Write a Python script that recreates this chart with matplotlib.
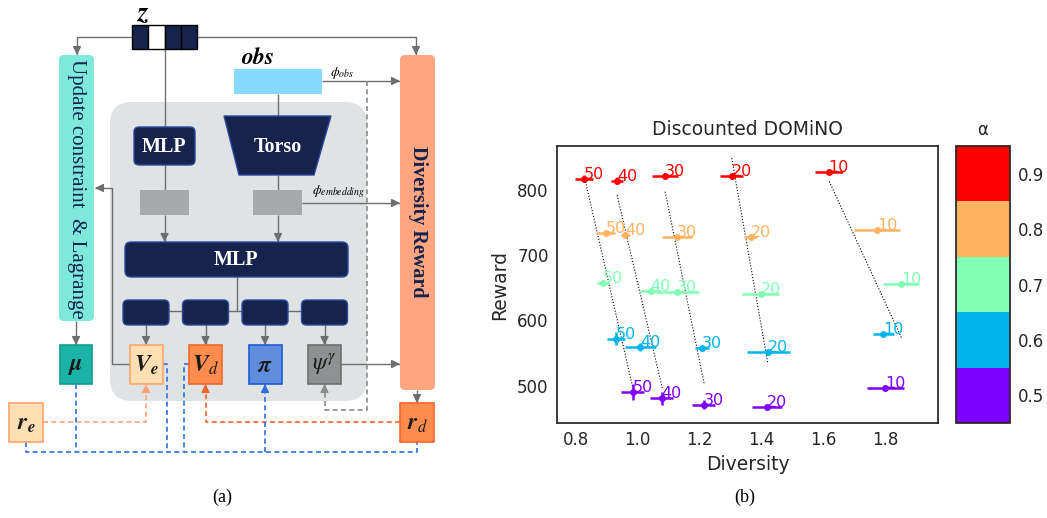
import numpy as np
import matplotlib
matplotlib.use('Agg')
import matplotlib.pyplot as plt
from matplotlib.patches import FancyBboxPatch, Polygon, Rectangle
from matplotlib.colors import ListedColormap, BoundaryNorm
from matplotlib.cm import ScalarMappable

plt.rcParams['mathtext.fontset'] = 'stix'

# ---- panel (b) data ----
alphas = [0.5, 0.6, 0.7, 0.8, 0.9]
n_labels = ['10', '20', '30', '40', '50']

# rows follow alphas, columns follow n_labels
diversity = [
    [1.800, 1.417, 1.214, 1.078, 0.985],
    [1.794, 1.422, 1.209, 1.009, 0.931],
    [1.851, 1.397, 1.128, 1.042, 0.888],
    [1.773, 1.365, 1.128, 0.961, 0.897],
    [1.617, 1.304, 1.089, 0.934, 0.827],
]
reward = [
    [497, 468, 471, 481, 490],
    [579, 552, 558, 559, 572],
    [656, 640, 643, 645, 657],
    [738, 727, 727, 731, 734],
    [827, 821, 821, 814, 817],
]
diversity_err = [
    [0.060, 0.049, 0.037, 0.037, 0.037],
    [0.035, 0.070, 0.022, 0.049, 0.028],
    [0.058, 0.060, 0.070, 0.034, 0.020],
    [0.075, 0.020, 0.049, 0.014, 0.031],
    [0.045, 0.037, 0.042, 0.020, 0.030],
]
reward_err = [
    [2, 2, 7, 10, 12],
    [3, 2, 3, 6, 10],
    [2, 2, 2, 4, 3],
    [2, 2, 2, 4, 3],
    [2, 2, 2, 5, 5],
]
# dotted trend line for each n label
trend_div_top = [1.619, 1.304, 1.089, 0.934, 0.832]
trend_rew_top = [812.7, 848.5, 797, 792, 812.7]
trend_div_bot = [1.854, 1.420, 1.216, 1.080, 0.985]
trend_rew_bot = [571.5, 536, 501, 496, 496.4]

# ---- panel (a) labels ----
head_labels = [r'$\mathbfit{V}_{\mathbfit{e}}$', r'$\mathbfit{V}_{d}$',
               r'$\mathbfit{\pi}$', r'$\psi^{\gamma}$']
head_fill = ['#ffdfb3', '#ff8c4f', '#5f8fdc', '#8e9192']
head_edge = ['#ffa66a', '#f2672a', '#1e5ad8', '#707070']
head_x = [146, 205.5, 265, 324.5]

navy = '#15234d'
navy_edge = '#2a4aa0'
lgray = '#6e6e6e'

fig = plt.figure(figsize=(10.47, 5.18), dpi=100)
ad = fig.add_axes([0, 0, 1, 1])
ad.set_xlim(0, 1047)
ad.set_ylim(518, 0)
ad.axis('off')


def box(x0, y0, x1, y1, fc, ec='none', r=0, lw=1, z=2):
    style = 'round,pad=0,rounding_size=%g' % r if r else 'square,pad=0'
    ad.add_patch(FancyBboxPatch((x0, y0), x1 - x0, y1 - y0, boxstyle=style,
                                fc=fc, ec=ec, lw=lw, zorder=z))


def path(pts, color=lgray, ls='-', lw=1.0, arrow=False, z=1.5):
    xs = [p[0] for p in pts]
    ys = [p[1] for p in pts]
    ad.plot(xs, ys, color=color, ls=ls, lw=lw, zorder=z,
            solid_capstyle='butt')
    if arrow:
        (x0, y0), (x1, y1) = pts[-2], pts[-1]
        d = np.hypot(x1 - x0, y1 - y0)
        ux, uy = (x1 - x0) / d, (y1 - y0) / d
        ad.annotate('', xy=(x1, y1), xytext=(x1 - ux * 7, y1 - uy * 7),
                    arrowprops=dict(arrowstyle='-|>,head_length=0.7,head_width=0.35',
                                    color=color, lw=1, shrinkA=0, shrinkB=0,
                                    mutation_scale=7), zorder=z + 1)


# background panels
box(110, 102, 367, 401, '#dfe3e4', r=22, z=1)
box(59, 55, 94, 321, '#7ee9da', r=5)
box(400, 55, 435, 390, '#ffa57f', r=5)
box(234, 69, 322, 94, '#84dbfb')
ad.text(76.5, 189, 'Update constraint  & Lagrange', rotation=-90, ha='center',
        va='center', family='Liberation Serif', fontsize=15, color=navy, zorder=3)
ad.text(417.5, 222, 'Diversity Reward', rotation=-90, ha='center', va='center',
        family='Liberation Serif', fontsize=14.5, fontweight='bold', color=navy, zorder=3)

# z vector
z_fill = [navy, 'white', navy, navy]
for k, fc in enumerate(z_fill):
    ad.add_patch(Rectangle((132 + 16.25 * k, 25), 16.25, 24, fc=fc, ec='black',
                           lw=1, zorder=3))
ad.text(143, 13, r'$\mathbfit{z}$', fontsize=20, ha='center', va='center')
ad.text(258, 57, r'$\mathbfit{obs}$', fontsize=17, ha='center', va='center')

# networks
box(134, 127, 195, 165, navy, ec=navy_edge, r=5)
ad.add_patch(Polygon([(224, 116), (331, 116), (314, 175), (239, 175)], closed=True,
                     fc=navy, ec=navy_edge, lw=1, zorder=2))
box(140, 190, 189, 215, '#a7a9aa')
box(253, 190, 302, 215, '#a7a9aa')
box(125, 242, 348, 277, navy, ec=navy_edge, r=6)
for t, x, y in [('MLP', 164.5, 147), ('Torso', 277.5, 147), ('MLP', 236.5, 260)]:
    ad.text(x, y, t, family='Liberation Serif', fontweight='bold', fontsize=14.5,
            color='white', ha='center', va='center', zorder=3)
path([(146, 311), (324.5, 311)])
path([(236.5, 277), (236.5, 311)])
for cx, lab, fc, ec in zip(head_x, head_labels, head_fill, head_edge):
    box(cx - 23, 300, cx + 23, 325, navy, ec=navy_edge, r=5)
    path([(cx, 325), (cx, 345)], arrow=True)
    box(cx - 16.5, 345, cx + 16.5, 384, fc, ec=ec, lw=1.2)
    ad.text(cx, 365, lab, fontsize=17, ha='center', va='center', color='#1a1a1a',
            zorder=3)

box(60, 345, 92, 384, '#1bb3a6', ec='#159d91', lw=1.2)
ad.text(76, 365, r'$\mathbfit{\mu}$', fontsize=17, ha='center', va='center',
        color='#1a1a1a', zorder=3)
box(9, 403, 43, 442, '#ffdfb3', ec='#ffa66a', lw=1.2)
ad.text(26, 423, r'$\mathbfit{r}_{\mathbfit{e}}$', fontsize=17, ha='center',
        va='center', color='#1a1a1a', zorder=3)
box(400, 403, 434, 442, '#ff8c4f', ec='#f2672a', lw=1.2)
ad.text(417, 423, r'$\mathbfit{r}_{d}$', fontsize=17, ha='center',
        va='center', color='#1a1a1a', zorder=3)

# solid connections
path([(132, 37), (77, 37), (77, 55)], arrow=True)
path([(197, 37), (416, 37), (416, 55)], arrow=True)
path([(164.5, 49), (164.5, 127)])
path([(278, 94), (278, 116)])
path([(164.5, 165), (164.5, 190)])
path([(278, 175), (278, 190)])
path([(164.5, 215), (164.5, 242)], arrow=True)
path([(278, 215), (278, 242)], arrow=True)
path([(322, 81), (400, 81)], arrow=True)
path([(302, 203), (400, 203)], arrow=True)
path([(130, 364), (112, 364), (112, 188), (95, 188)], arrow=True)
path([(341, 364), (400, 364)], arrow=True)
path([(76, 321), (76, 345)], arrow=True)
path([(417, 390), (417, 403)], arrow=True)
ad.text(330, 73, r'$\phi_{obs}$', fontsize=10, ha='left', va='center')
ad.text(312, 192, r'$\phi_{embedding}$', fontsize=10, ha='left', va='center')

# dashed connections
dash = (0, (3, 2))
path([(367, 81), (367, 410), (324.5, 410), (324.5, 384)], color='#8a8a8a', ls=dash,
     lw=1.2, arrow=True)
path([(43, 422), (146, 422), (146, 384)], color='#ffa374', ls=dash, lw=1.2, arrow=True)
path([(400, 422), (205.5, 422), (205.5, 384)], color='#f0662a', ls=dash, lw=1.2,
     arrow=True)
blue = '#2b6fe3'
path([(26, 442), (26, 452), (417, 452), (417, 442)], color=blue, ls=dash, lw=1.2)
path([(76, 384), (76, 452)], color=blue, ls=dash, lw=1.2)
path([(162.5, 364), (167, 364), (167, 452)], color=blue, ls=dash, lw=1.2)
path([(189, 364), (184, 364), (184, 452)], color=blue, ls=dash, lw=1.2)
path([(265, 452), (265, 384)], color=blue, ls=dash, lw=1.2, arrow=True)

ad.text(222, 497, '(a)', family='Liberation Serif', fontsize=13, ha='center', va='center')
ad.text(745, 497, '(b)', family='Liberation Serif', fontsize=13, ha='center', va='center')

# ---- panel (b) ----
tc = '#262626'
colors = plt.cm.rainbow(np.linspace(0, 1, len(alphas)))
ax = fig.add_axes([557 / 1047, 95 / 518, 381 / 1047, 277 / 518])
for i in range(len(alphas)):
    c = colors[i]
    ax.errorbar(diversity[i], reward[i], xerr=diversity_err[i], yerr=reward_err[i],
                fmt='o', color=c, ms=4, elinewidth=1.8, capsize=0, zorder=3)
    for j, lab in enumerate(n_labels):
        ax.text(diversity[i][j], reward[i][j], lab, color=c, fontsize=11.5, zorder=4)
for j in range(len(n_labels)):
    ax.plot([trend_div_top[j], trend_div_bot[j]], [trend_rew_top[j], trend_rew_bot[j]],
            ls=':', color='black', lw=0.8, zorder=2)
ax.set_xlim(0.74, 1.97)
ax.set_ylim(443, 867)
ax.set_xticks([0.8, 1.0, 1.2, 1.4, 1.6, 1.8])
ax.set_yticks([500, 600, 700, 800])
ax.tick_params(length=0, pad=6, labelsize=12, labelcolor=tc)
for s in ax.spines.values():
    s.set_color(tc)
    s.set_linewidth(1.25)
ax.set_xlabel('Diversity', fontsize=13.5, color=tc, labelpad=4)
ax.set_ylabel('Reward', fontsize=13.5, color=tc, labelpad=6)
ax.set_title('Discounted DOMiNO', fontsize=13.5, color=tc, pad=8)

cax = fig.add_axes([956 / 1047, 95 / 518, 54 / 1047, 277 / 518])
cmap = ListedColormap(colors)
norm = BoundaryNorm([0.45, 0.55, 0.65, 0.75, 0.85, 0.95], cmap.N)
cb = fig.colorbar(ScalarMappable(norm=norm, cmap=cmap), cax=cax, ticks=alphas)
cb.ax.minorticks_off()
cb.ax.tick_params(which='both', length=0, pad=6, labelsize=12, labelcolor=tc)
cb.outline.set_edgecolor(tc)
cb.outline.set_linewidth(1.25)
cax.set_title('α', fontsize=12, color=tc, pad=8)

fig.savefig('out.png', dpi=100)
